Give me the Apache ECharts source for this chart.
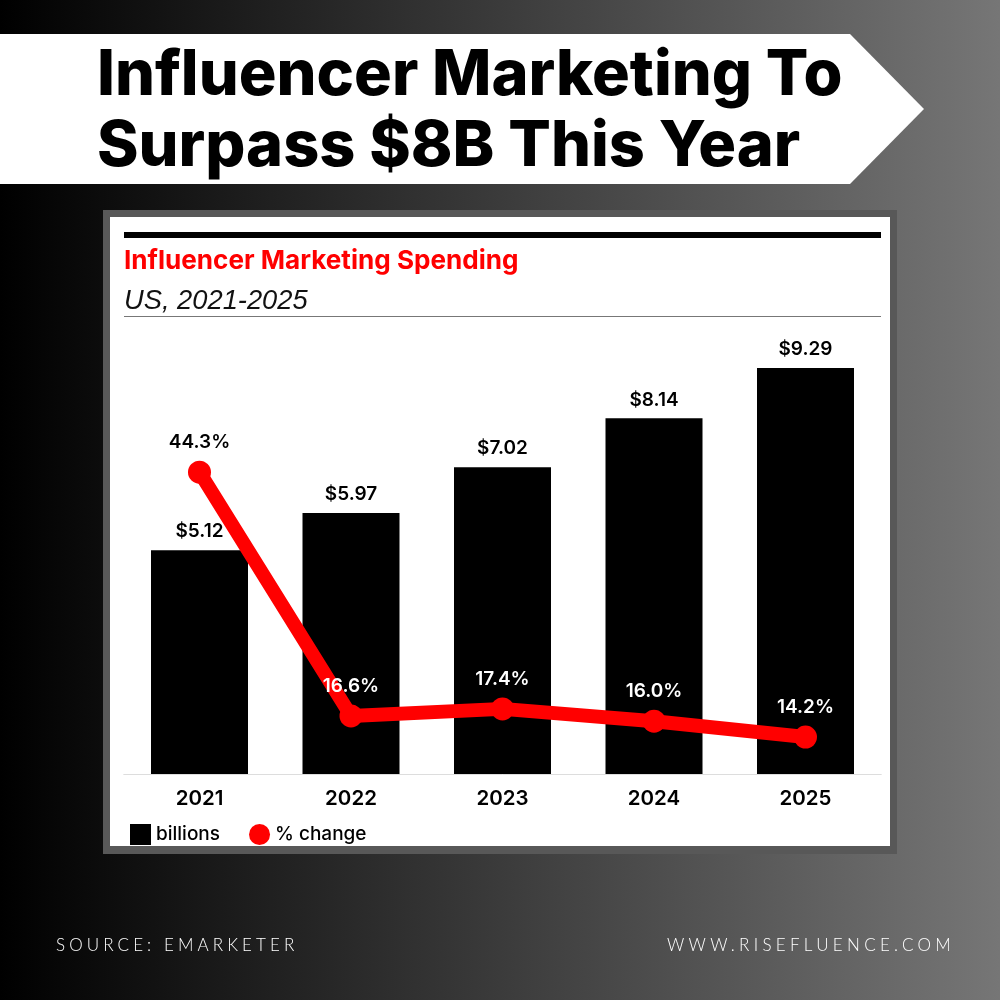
<!DOCTYPE html>
<html>
<head>
<meta charset="utf-8">
<title>Influencer Marketing Spending</title>
<script src="https://cdn.jsdelivr.net/npm/echarts@6/dist/echarts.min.js"></script>
<style>
  html, body { margin: 0; padding: 0; background: #000; }
  #wrap { position: relative; width: 1000px; height: 1000px; overflow: hidden; }
  #chart { width: 1000px; height: 1000px; }
  .foot {
    position: absolute; top: 935px; color: #ffffff;
    font: 300 17px/20px Lato, sans-serif; letter-spacing: 4.1px; white-space: nowrap;
  }
</style>
</head>
<body>
<div id="wrap">
  <div id="chart"></div>
  <div class="foot" style="left:56px">SOURCE: EMARKETER</div>
  <div class="foot" style="right:45px; letter-spacing:4.3px">WWW.RISEFLUENCE.COM</div>
</div>
<script>
const years = ['2021', '2022', '2023', '2024', '2025']
const billions = [5.12, 5.97, 7.02, 8.14, 9.29]
const pctChange = [44.3, 16.6, 17.4, 16.0, 14.2]
const pctLabelColors = ['#000000', '#ffffff', '#ffffff', '#ffffff', '#ffffff']

const labelFont = { fontFamily: 'Inter', fontWeight: 600, fontSize: 19 }

const chart = echarts.init(document.getElementById('chart'), null, { renderer: 'canvas' })

chart.setOption({
  animation: false,
  backgroundColor: {
    type: 'linear', x: 0, y: 0, x2: 1, y2: 0,
    colorStops: [{ offset: 0, color: '#000000' }, { offset: 1, color: '#767676' }],
  },
  graphic: [
    { type: 'polygon', z: -10, shape: { points: [[0, 34], [850, 34], [924, 109], [850, 184], [0, 184]] }, style: { fill: '#ffffff' } },
    { type: 'rect', z: -10, shape: { x: 103, y: 210, width: 794, height: 644 }, style: { fill: '#585858' } },
    { type: 'rect', z: -9, shape: { x: 110, y: 217, width: 780, height: 629 }, style: { fill: '#ffffff' } },
    { type: 'rect', z: -8, shape: { x: 124, y: 232, width: 757, height: 6 }, style: { fill: '#000000' } },
    { type: 'rect', z: -8, shape: { x: 124, y: 316, width: 757, height: 1 }, style: { fill: '#777777' } },
  ],
  title: [
    {
      text: 'Influencer Marketing To\nSurpass $8B This Year',
      left: 92, top: 36,
      textStyle: { fontFamily: 'Inter', fontWeight: 800, fontSize: 63, lineHeight: 71, color: '#000000' },
    },
    {
      text: 'Influencer Marketing Spending',
      left: 119, top: 243,
      textStyle: { fontFamily: 'Inter', fontWeight: 700, fontSize: 26.1, color: '#ff0000' },
    },
    {
      text: 'US, 2021-2025',
      left: 119, top: 283,
      textStyle: { fontFamily: 'Liberation Sans', fontStyle: 'italic', fontWeight: 400, fontSize: 27.3, color: '#111111' },
    },
  ],
  legend: {
    left: 130, top: 824, padding: 0,
    itemWidth: 21, itemHeight: 21, itemGap: 29,
    data: [{ name: 'billions', icon: 'rect' }, { name: '% change', icon: 'circle' }],
    textStyle: { fontFamily: 'Inter', fontWeight: 500, fontSize: 19, color: '#000000' },
  },
  grid: { left: 123.75, width: 757.5, top: 337, height: 437 },
  xAxis: {
    type: 'category', data: years,
    axisTick: { show: false },
    axisLine: { lineStyle: { color: '#dddddd', width: 1 } },
    axisLabel: { margin: 14, fontFamily: 'Inter', fontWeight: 600, fontSize: 20.5, color: '#000000' },
  },
  yAxis: [
    { type: 'value', min: 0, max: 10, show: false, splitLine: { show: false } },
    { type: 'value', min: 10, max: 59.66, show: false, splitLine: { show: false } },
  ],
  series: [
    {
      name: 'billions', type: 'bar', data: billions, barWidth: 97, yAxisIndex: 0,
      itemStyle: { color: '#000000' },
      label: {
        show: true, position: 'top', distance: 9, color: '#000000', ...labelFont,
        formatter: (p) => '$' + p.value.toFixed(2),
      },
    },
    {
      name: '% change', type: 'line', yAxisIndex: 1, z: 3,
      data: pctChange.map((v, i) => ({ value: v, label: { color: pctLabelColors[i] } })),
      symbol: 'circle', symbolSize: 23,
      lineStyle: { color: '#ff0000', width: 14 },
      itemStyle: { color: '#ff0000' },
      label: {
        show: true, position: 'top', distance: 9, ...labelFont,
        formatter: (p) => p.value.toFixed(1) + '%',
      },
    },
  ],
})
</script>
</body>
</html>
